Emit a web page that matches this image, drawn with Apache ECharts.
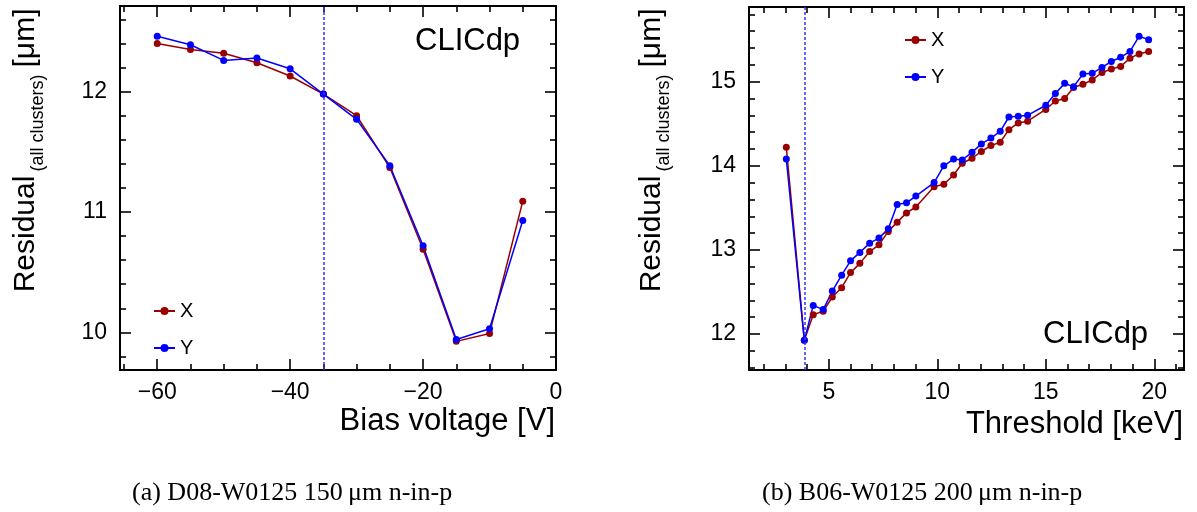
<!DOCTYPE html>
<html>
<head>
<meta charset="utf-8">
<script src="https://cdn.jsdelivr.net/npm/echarts@6/dist/echarts.min.js"></script>
<style>
html, body { margin: 0; padding: 0; background: #fff; }
#chart { width: 1197px; height: 512px; }
</style>
</head>
<body>
<div id="chart"></div>
<script>
// (a) D08-W0125 bias voltage scan
var biasVoltage = [-60, -55, -50, -45, -40, -35, -30, -25, -20, -15, -10, -5];
var biasResX = [12.40, 12.35, 12.32, 12.24, 12.13, 11.98, 11.80, 11.37, 10.69, 9.925, 9.99, 11.09];
var biasResY = [12.46, 12.39, 12.26, 12.28, 12.19, 11.98, 11.77, 11.385, 10.72, 9.94, 10.03, 10.93];
var biasWorkingPoint = -35;

// (b) B06-W0125 threshold scan
var threshold = [3.04, 3.87, 4.28, 4.74, 5.16, 5.59, 6.0, 6.43, 6.88, 7.31, 7.74, 8.15, 8.58, 9.01, 9.85, 10.30,
  10.75, 11.15, 11.6, 12.03, 12.47, 12.9, 13.3, 13.73, 14.16, 15.0, 15.44, 15.87, 16.28, 16.71, 17.14, 17.59,
  18.02, 18.45, 18.88, 19.3, 19.74];
var thrResX = [14.22, 11.925, 12.23, 12.27, 12.44, 12.55, 12.73, 12.84, 12.98, 13.06, 13.22, 13.33, 13.44, 13.51,
  13.75, 13.78, 13.89, 14.03, 14.09, 14.17, 14.24, 14.28, 14.43, 14.51, 14.53, 14.67, 14.77, 14.80, 14.93, 14.97,
  15.02, 15.11, 15.15, 15.18, 15.28, 15.33, 15.36];
var thrResY = [14.08, 11.925, 12.34, 12.29, 12.51, 12.70, 12.87, 12.97, 13.08, 13.14, 13.25, 13.54, 13.56, 13.64,
  13.80, 14.00, 14.08, 14.07, 14.16, 14.26, 14.33, 14.41, 14.58, 14.59, 14.60, 14.72, 14.86, 14.98, 14.94, 15.09,
  15.10, 15.17, 15.24, 15.29, 15.36, 15.54, 15.50];
var thrWorkingPoint = 3.87;

// ticks
var biasMajor = [-60, -40, -20, 0];
var biasMinor = [-65, -55, -50, -45, -35, -30, -25, -15, -10, -5];
var resAMajor = [10, 11, 12];
var resAMinor = [9.8, 10.2, 10.4, 10.6, 10.8, 11.2, 11.4, 11.6, 11.8, 12.2, 12.4, 12.6];
var thrMajor = [5, 10, 15, 20];
var thrMinor = [2, 3, 4, 6, 7, 8, 9, 11, 12, 13, 14, 16, 17, 18, 19, 21];
var resBMajor = [12, 13, 14, 15];
var resBMinor = [11.6, 11.8, 12.2, 12.4, 12.6, 12.8, 13.2, 13.4, 13.6, 13.8, 14.2, 14.4, 14.6, 14.8, 15.2, 15.4, 15.6, 15.8];

var FONT = '"Liberation Sans", Arial, Helvetica, sans-serif';
var SERIF = '"Liberation Serif", "Times New Roman", serif';
var RED = '#990000', BLUE = '#0000ff';

function pairs(xs, ys) {
  return xs.map(function (x, i) { return [x, ys[i]]; });
}

// one side of the ROOT style frame: major ticks (+labels) and minor ticks
function sideAxes(grid, position, min, max, major, minor, labels) {
  var base = {
    type: 'value', gridIndex: grid, position: position, min: min, max: max,
    splitLine: { show: false },
    axisLine: { show: true, onZero: false, lineStyle: { color: '#000', width: 2 } }
  };
  var a = Object.assign({}, base, {
    axisTick: { show: true, inside: true, length: 11, customValues: major, lineStyle: { color: '#000', width: 1.6 } },
    axisLabel: {
      show: labels, customValues: major, color: '#000', fontSize: 23, fontFamily: FONT, margin: 11,
      formatter: function (v) { return String(v).replace('-', '\u2212'); }
    }
  });
  var b = Object.assign({}, base, {
    axisLine: { show: false, onZero: false },
    axisTick: { show: true, inside: true, length: 6, customValues: minor, lineStyle: { color: '#000', width: 1.6 } },
    axisLabel: { show: false }
  });
  return [a, b];
}

var xAxes = [].concat(
  sideAxes(0, 'bottom', -65.6, 0, biasMajor, biasMinor, true),
  sideAxes(0, 'top', -65.6, 0, biasMajor, biasMinor, false),
  sideAxes(1, 'bottom', 1.32, 21.37, thrMajor, thrMinor, true),
  sideAxes(1, 'top', 1.32, 21.37, thrMajor, thrMinor, false)
);
var yAxes = [].concat(
  sideAxes(0, 'left', 9.687, 12.712, resAMajor, resAMinor, true),
  sideAxes(0, 'right', 9.687, 12.712, resAMajor, resAMinor, false),
  sideAxes(1, 'left', 11.572, 15.888, resBMajor, resBMinor, true),
  sideAxes(1, 'right', 11.572, 15.888, resBMajor, resBMinor, false)
);
yAxes.forEach(function (a) { a.axisLabel.margin = 13; });

function lineSeries(name, color, xIdx, data, mark) {
  var s = {
    name: name, type: 'line', xAxisIndex: xIdx, yAxisIndex: xIdx, data: data,
    symbol: 'circle', symbolSize: 7, color: color,
    lineStyle: { color: color, width: 1.5 },
    itemStyle: { color: color }
  };
  if (mark !== undefined) {
    s.markLine = {
      silent: true, symbol: ['none', 'none'], label: { show: false },
      lineStyle: { color: '#3333ff', type: [3, 2], width: 1.5 },
      data: [{ xAxis: mark }]
    };
  }
  return s;
}

var legendBase = {
  data: ['X', 'Y'], orient: 'vertical', itemWidth: 21, itemHeight: 10, itemGap: 17,
  selectedMode: false,
  textStyle: { fontSize: 20, fontFamily: FONT, color: '#000', lineHeight: 20 }
};

function txt(x, y, text, size, align, family, rot) {
  return {
    type: 'text', x: x, y: y, rotation: rot || 0, silent: true,
    style: {
      text: text, fill: '#000', font: size + 'px ' + (family || FONT),
      textAlign: align, align: align, textVerticalAlign: 'middle', verticalAlign: 'middle'
    }
  };
}

var chart = echarts.init(document.getElementById('chart'));
chart.setOption({
  animation: false,
  backgroundColor: '#fff',
  grid: [
    { left: 120, top: 6, width: 436, height: 364 },
    { left: 749, top: 7, width: 435, height: 363 }
  ],
  xAxis: xAxes,
  yAxis: yAxes,
  legend: [
    Object.assign({}, legendBase, { left: 148, top: 296 }),
    Object.assign({}, legendBase, { left: 899, top: 25 })
  ],
  series: [
    lineSeries('X', RED, 0, pairs(biasVoltage, biasResX), biasWorkingPoint),
    lineSeries('Y', BLUE, 0, pairs(biasVoltage, biasResY)),
    lineSeries('X', RED, 4, pairs(threshold, thrResX), thrWorkingPoint),
    lineSeries('Y', BLUE, 4, pairs(threshold, thrResY))
  ],
  graphic: [
    txt(415, 41, 'CLICdp', 31, 'left'),
    txt(1043, 334, 'CLICdp', 31, 'left'),
    txt(555, 421, 'Bias voltage [V]', 31, 'right'),
    txt(1183, 424, 'Threshold [keV]', 31, 'right'),
    // y titles
    txt(26, 234, 'Residual', 30, 'center', FONT, Math.PI / 2),
    txt(38, 123, '(all clusters)', 18, 'center', FONT, Math.PI / 2),
    txt(26, 38, '[\u03bcm]', 30, 'center', FONT, Math.PI / 2),
    txt(652, 234, 'Residual', 30, 'center', FONT, Math.PI / 2),
    txt(664, 123, '(all clusters)', 18, 'center', FONT, Math.PI / 2),
    txt(652, 38, '[\u03bcm]', 30, 'center', FONT, Math.PI / 2),
    // captions
    txt(132, 493, '(a) D08-W0125 150\u2009\u03bcm n-in-p', 26, 'left', SERIF),
    txt(762, 493, '(b) B06-W0125 200\u2009\u03bcm n-in-p', 26, 'left', SERIF)
  ]
});
</script>
</body>
</html>
